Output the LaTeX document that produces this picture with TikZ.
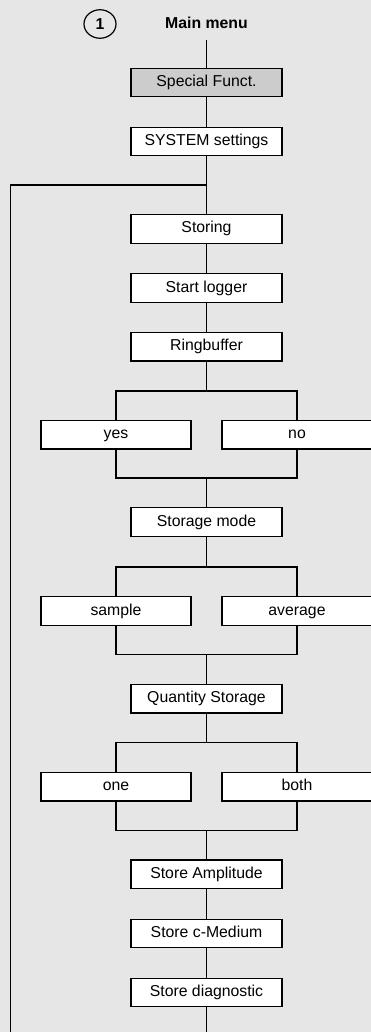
\documentclass[tikz,border=0pt]{standalone}
\usepackage{fontspec}
\setmainfont{Liberation Sans}
\usetikzlibrary{shapes.geometric}
\definecolor{bgc}{HTML}{E6E6E6}
\definecolor{hlc}{HTML}{CCCCCC}
\begin{document}
\begin{tikzpicture}[x=1pt,y=-1pt,
  line width=1.4pt,
  menubox/.style={draw, fill=white, minimum width=151pt, minimum height=28.5pt, inner sep=0pt,
    text height=11.3pt, text depth=3.3pt, font=\fontsize{15.8}{18}\selectfont},
  optbox/.style={menubox, minimum width=150pt},
  hlbox/.style={menubox, fill=hlc},
  conn/.style={line width=1.4pt}]
\clip (0,0) rectangle (371,1032);
\fill[bgc] (0,0) rectangle (371,1032);
% header
\node[draw, ellipse, minimum width=32pt, minimum height=28.5pt, inner sep=0pt, line width=1.2pt,
  font=\fontsize{15.8}{18}\selectfont\bfseries] (num) at (100,24) {1};
\node[minimum height=32pt, inner sep=0pt, font=\fontsize{15.8}{18}\selectfont\bfseries] (mm) at (206.5,23) {Main menu};
% main chain
\node[hlbox] (sf) at (206.5,82.5) {Special Funct.};
\node[menubox] (ss) at (206.5,141.5) {SYSTEM settings};
\node[menubox] (st) at (206.5,229) {Storing};
\node[menubox] (sl) at (206.5,288) {Start logger};
\node[menubox] (rb) at (206.5,346.7) {Ringbuffer};
\node[optbox] (yes) at (116,434.7) {yes};
\node[optbox] (no) at (297,434.7) {no};
\node[menubox] (sm) at (206.5,522) {Storage mode};
\node[optbox] (sa) at (116,611) {sample};
\node[optbox] (av) at (297,611) {average};
\node[menubox] (qs) at (206.5,698.7) {Quantity Storage};
\node[optbox] (one) at (116,786.7) {one};
\node[optbox] (both) at (297,786.7) {both};
\node[menubox] (sa2) at (206.5,874.3) {Store Amplitude};
\node[menubox] (sc) at (206.5,933.5) {Store c-Medium};
\node[menubox] (sd) at (206.5,992.5) {Store diagnostic};
% junction coordinates
\coordinate (j) at (206.5,185);
\coordinate (lt) at (10.5,185);
\coordinate (lb) at (10.5,1032);
\coordinate (s1) at (206.5,391);
\coordinate (m1) at (206.5,478);
\coordinate (s2) at (206.5,567);
\coordinate (m2) at (206.5,654.5);
\coordinate (s3) at (206.5,742.5);
\coordinate (m3) at (206.5,830.5);
\coordinate (bt) at (206.5,1032);
% connectors
\draw[conn] (mm.south) -- (sf.north);
\draw[conn] (sf.south) -- (ss.north);
\draw[conn] (ss.south) -- (st.north);
\draw[conn] (j) -- (lt) -- (lb);
\draw[conn] (st.south) -- (sl.north);
\draw[conn] (sl.south) -- (rb.north);
\draw[conn] (rb.south) -- (s1);
\draw[conn] (yes.north) |- (s1) -| (no.north);
\draw[conn] (yes.south) |- (m1) -| (no.south);
\draw[conn] (m1) -- (sm.north);
\draw[conn] (sm.south) -- (s2);
\draw[conn] (sa.north) |- (s2) -| (av.north);
\draw[conn] (sa.south) |- (m2) -| (av.south);
\draw[conn] (m2) -- (qs.north);
\draw[conn] (qs.south) -- (s3);
\draw[conn] (one.north) |- (s3) -| (both.north);
\draw[conn] (one.south) |- (m3) -| (both.south);
\draw[conn] (m3) -- (sa2.north);
\draw[conn] (sa2.south) -- (sc.north);
\draw[conn] (sc.south) -- (sd.north);
\draw[conn] (sd.south) -- (bt);
\end{tikzpicture}
\end{document}
